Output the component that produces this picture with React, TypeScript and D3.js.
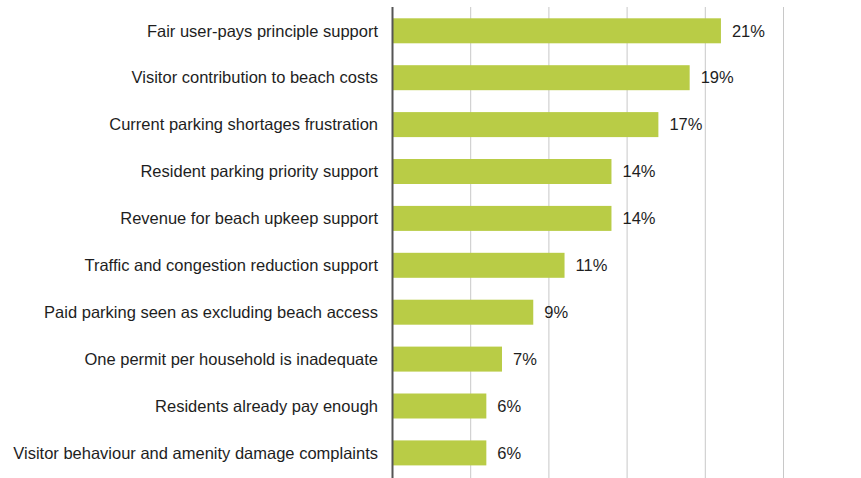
import React from "react";
import * as d3 from "d3";

const categories = [
  "Fair user-pays principle support",
  "Visitor contribution to beach costs",
  "Current parking shortages frustration",
  "Resident parking priority support",
  "Revenue for beach upkeep support",
  "Traffic and congestion reduction support",
  "Paid parking seen as excluding beach access",
  "One permit per household is inadequate",
  "Residents already pay enough",
  "Visitor behaviour and amenity damage complaints",
];
const values = [21, 19, 17, 14, 14, 11, 9, 7, 6, 6];
const gridTicks = [5, 10, 15, 20, 25];

const W = 861;
const H = 478;

export default function App() {
  const x = d3.scaleLinear().domain([0, 25]).range([392.5, 783.5]);
  const y = d3
    .scaleBand<string>()
    .domain(categories)
    .range([18.3, 465.4])
    .paddingInner(0.467)
    .paddingOuter(0);
  const font = "'Liberation Sans', Arial, sans-serif";
  return (
    <svg
      width={W}
      height={H}
      style={{ position: "absolute", left: 0, top: 0, background: "#fff" }}
    >
      {gridTicks.map((t) => (
        <line
          key={t}
          x1={x(t)}
          x2={x(t)}
          y1={7}
          y2={H}
          stroke="#c8c8c8"
          strokeWidth={1}
        />
      ))}
      {categories.map((c, i) => (
        <g key={c}>
          <rect
            x={x(0)}
            y={y(c)!}
            width={x(values[i]) - x(0)}
            height={y.bandwidth()}
            fill="#b9cc46"
          />
          <text
            x={378}
            y={y(c)! + y.bandwidth() / 2}
            dy="0.35em"
            textAnchor="end"
            fontFamily={font}
            fontSize={16.5}
            fill="#1e1e1e"
          >
            {c}
          </text>
          <text
            x={x(values[i]) + 11}
            y={y(c)! + y.bandwidth() / 2}
            dy="0.35em"
            textAnchor="start"
            fontFamily={font}
            fontSize={16.5}
            fill="#1e1e1e"
          >
            {values[i]}%
          </text>
        </g>
      ))}
      <line x1={x(0)} x2={x(0)} y1={7} y2={H} stroke="#555" strokeWidth={2} />
    </svg>
  );
}
